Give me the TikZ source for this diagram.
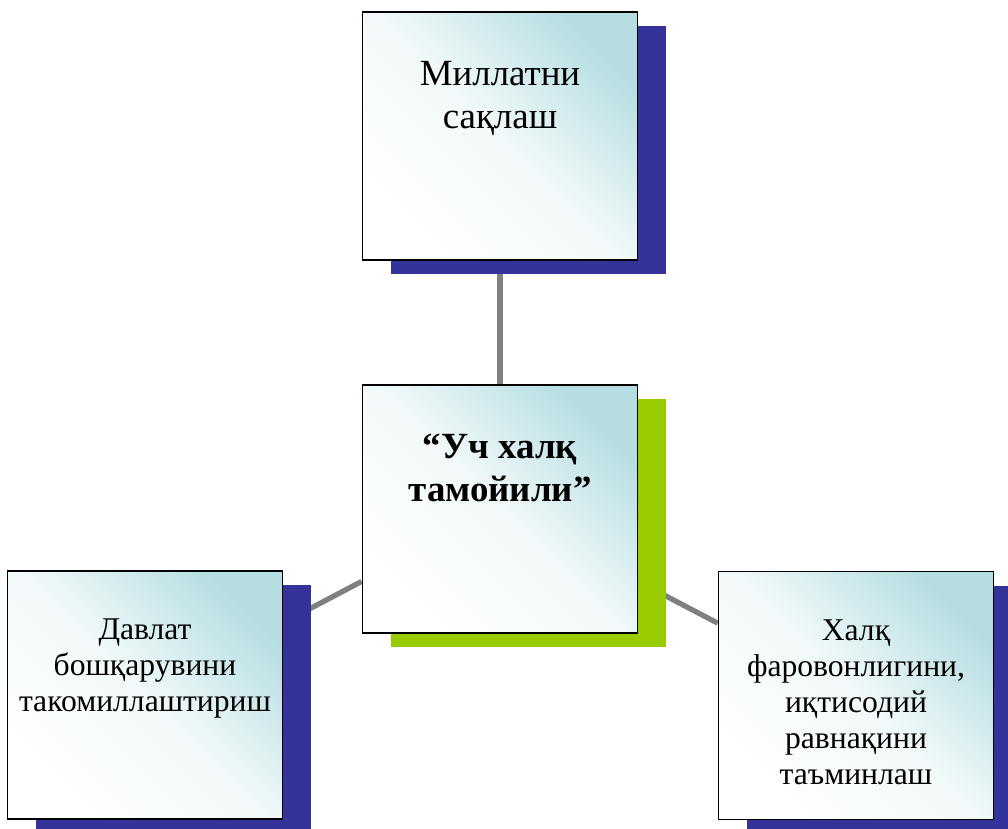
\documentclass[tikz,border=0pt]{standalone}
\usepackage{fontspec}
\setmainfont{Liberation Serif}
\usepackage{tikz}
\usetikzlibrary{shadows}
\pgfdeclarelayer{bg}
\pgfsetlayers{bg,main}
\definecolor{shnavy}{RGB}{51,51,153}
\definecolor{shgreen}{RGB}{153,204,0}
\definecolor{boxteal}{RGB}{182,222,226}
\definecolor{linkgray}{RGB}{128,128,128}
\tikzset{
    every node/.style={rectangle, draw, line width=1pt, inner sep=0mm, minimum width=5.5cm, minimum height=4.96cm}
}
\tikzset{tile/.style={bottom color=white, top color=boxteal, middle color=boxteal!18!white, shading angle=-45}}
\tikzset{blueshadow/.style={general shadow={fill=shnavy, shadow xshift=0.56cm, shadow yshift=-0.28cm}}}
\tikzset{greenshadow/.style={general shadow={fill=shgreen, shadow xshift=0.56cm, shadow yshift=-0.28cm}}}
\tikzset{link/.style={draw=linkgray, line width=3pt}}
\newcommand{\tiletext}[4]{\parbox[c][4.96cm][t]{5.5cm}{\centering\fontsize{#1}{#2}\selectfont\rule{0pt}{#3}#4}}

\begin{document}
\begin{tikzpicture}
        \useasboundingbox (0,0) rectangle (20.16,16.56);
        \node (top) [tile, blueshadow] at (10.00cm, 13.84cm) {\tiletext{21}{24}{1.48cm}{Миллатни\\сақлаш}};
        \node (mid) [tile, greenshadow] at (10.00cm, 6.38cm) {\tiletext{21}{25}{1.46cm}{\bfseries “Уч халқ\\тамойили”}};
        \node (left) [tile, blueshadow] at (2.90cm, 2.66cm) {\tiletext{18}{20.5}{1.37cm}{Давлат\\бошқарувини\\такомиллаштириш}};
        \node (right) [tile, blueshadow] at (17.12cm, 2.65cm) {\tiletext{18}{20.5}{1.38cm}{Халқ\\фаровонлигини,\\иқтисодий\\равнақини\\таъминлаш}};
        \begin{pgfonlayer}{bg}
                \draw (mid) edge [link] (top);
                \draw (mid) edge [link] (left);
                \draw (mid) edge [link] (right);
        \end{pgfonlayer}
\end{tikzpicture}
\end{document}
